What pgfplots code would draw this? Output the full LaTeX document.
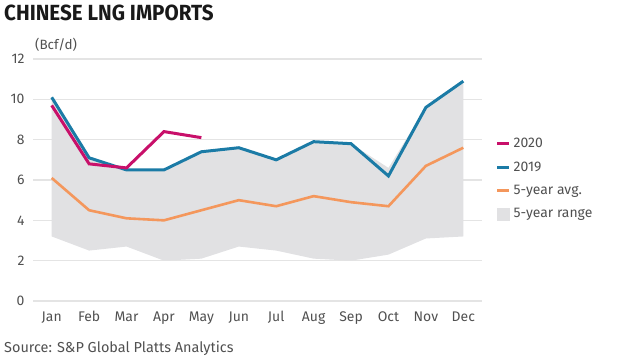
\documentclass[border=0pt]{standalone}
\usepackage{fontspec}
\setmainfont{Fira Sans}
\usepackage{graphicx}
\usepackage{pgfplots}
\pgfplotsset{compat=1.18}
\usepgfplotslibrary{fillbetween}
\definecolor{c2020}{HTML}{C8106A}
\definecolor{c2019}{HTML}{1B7BA6}
\definecolor{cavg}{HTML}{F4975C}
\definecolor{crange}{HTML}{E1E1E3}
\definecolor{gridgray}{HTML}{E4E4E4}
\definecolor{labelgray}{HTML}{505050}
\pgfplotsset{shortline/.style={legend image code/.code={\draw[##1] (0bp,0bp) -- (12bp,0bp);}},
  squarebox/.style={legend image code/.code={\fill[crange] (0bp,-6bp) rectangle (12bp,6bp);}}}
\pgfplotstableread{
x up lo
0 10.1 3.2
1 7.1 2.5
2 6.5 2.7
3 6.5 2.0
4 7.4 2.1
5 7.6 2.7
6 7.0 2.5
7 7.9 2.1
8 7.8 2.0
9 6.6 2.3
10 9.6 3.1
11 10.9 3.2
}\rangetab
\pgfplotstableread{
x y
0 10.1
1 7.1
2 6.5
3 6.5
4 7.4
5 7.6
6 7.0
7 7.9
8 7.8
9 6.2
10 9.6
11 10.9
}\tabnineteen
\pgfplotstableread{
x y
0 9.7
1 6.8
2 6.6
3 8.4
4 8.1
}\tabtwenty
\pgfplotstableread{
x y
0 6.1
1 4.5
2 4.1
3 4.0
4 4.5
5 5.0
6 4.7
7 5.2
8 4.9
9 4.7
10 6.7
11 7.6
}\tabavg
\begin{document}
\begin{tikzpicture}
\path (0bp,0bp) rectangle (620bp,361bp);
\begin{axis}[
  at={(33bp,60bp)}, anchor=south west,
  scale only axis, width=449bp, height=242bp,
  xmin=-0.5, xmax=11.5, ymin=0, ymax=12,
  ytick={0,2,...,12},
  xtick={0,...,11},
  xticklabels={Jan,Feb,Mar,Apr,May,Jun,Jul,Aug,Sep,Oct,Nov,Dec},
  axis line style={draw=none},
  major tick length=0pt,
  ymajorgrids,
  grid style={gridgray, line width=1.3bp},
  tick label style={font=\fontsize{14}{16}\selectfont, text=labelgray},
  /pgf/number format/assume math mode=true,
  yticklabel style={xshift=-5bp},
  xticklabel style={yshift=-7bp},
  legend style={at={(1.03,0.682)}, anchor=north west, draw=none, fill=none,
    font=\fontsize{14}{16}\selectfont, text=labelgray, row sep=8.5bp,
    inner sep=0pt, nodes={inner xsep=3bp}},
  legend cell align=left,
]
\addlegendimage{c2020, line width=3bp, shortline}
\addlegendentry{2020}
\addlegendimage{c2019, line width=3bp, shortline}
\addlegendentry{2019}
\addlegendimage{cavg, line width=3bp, shortline}
\addlegendentry{5-year avg.}
\addlegendimage{squarebox}
\addlegendentry{5-year range}
\addplot[draw=none, name path=up, forget plot] table[x=x,y=up] {\rangetab};
\addplot[draw=none, name path=lo, forget plot] table[x=x,y=lo] {\rangetab};
\addplot[fill=crange, draw=none, forget plot] fill between[of=up and lo];
\addplot[cavg, line width=2.6bp, forget plot] table {\tabavg};
\addplot[c2019, line width=3bp, forget plot] table {\tabnineteen};
\addplot[c2020, line width=3bp, forget plot] table {\tabtwenty};
\end{axis}
\node[anchor=north west, inner sep=0pt, font=\bfseries\fontsize{22}{25}\selectfont, text=black!90]
  at (4bp,356bp) {\scalebox{0.94}[1]{CHINESE LNG IMPORTS}};
\node[anchor=west, inner sep=0pt, font=\fontsize{13.5}{15}\selectfont, text=labelgray] at (35bp,316bp) {(Bcf/d)};
\node[anchor=west, inner sep=0pt, font=\fontsize{14.5}{16}\selectfont, text=labelgray] at (4bp,13bp) {Source: S\&P Global Platts Analytics};
\end{tikzpicture}
\end{document}
